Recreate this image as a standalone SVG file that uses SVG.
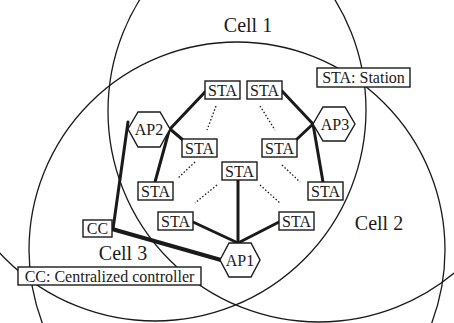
<svg xmlns="http://www.w3.org/2000/svg" width="454" height="323" viewBox="0 0 454 323">
<style>
.cell{fill:none;stroke:#1a1a1a;stroke-width:1.3}
.box{fill:#fff;stroke:#1a1a1a;stroke-width:1.4}
text{font-family:'Liberation Serif','DejaVu Serif',serif;fill:#1a1a1a;text-anchor:middle}
.t{font-size:16px}
.lbl{font-size:20px}
.thick{stroke:#1a1a1a;stroke-width:3;fill:none;stroke-linecap:round}
.dot{stroke:#1a1a1a;stroke-width:1.3;stroke-dasharray:1.5 2;fill:none}
</style>
<rect width="454" height="323" fill="#fff"/>
<g id="cells">
<circle class="cell" cx="155" cy="110" r="211"/>
<circle class="cell" cx="319" cy="111" r="211"/>
<circle class="cell" cx="237" cy="250" r="208"/>
</g>
<g id="cell-labels" font-family="Liberation Serif, DejaVu Serif, serif">
<text class="lbl" x="248" y="32">Cell 1</text>
<text class="lbl" x="379" y="230">Cell 2</text>
<text class="lbl" x="123" y="260">Cell 3</text>
</g>
<g id="connectors">
<line class="thick" x1="170" y1="129" x2="205" y2="92"/>
<line class="thick" x1="170" y1="129" x2="183" y2="140"/>
<line class="thick" x1="169" y1="131" x2="155" y2="182"/>
<line class="thick" x1="128" y1="122" x2="113" y2="229"/>
<line class="thick" style="stroke-width:4" x1="112" y1="229" x2="221" y2="260"/>
<line class="thick" x1="238" y1="243" x2="238" y2="180"/>
<line class="thick" x1="238" y1="243" x2="193" y2="222"/>
<line class="thick" x1="238" y1="243" x2="279" y2="222"/>
<line class="thick" x1="313" y1="124" x2="282" y2="91"/>
<line class="thick" x1="313" y1="124" x2="296" y2="140"/>
<line class="thick" x1="313" y1="124" x2="323" y2="182"/>
<line class="dot" x1="216" y1="106" x2="207" y2="130"/>
<line class="dot" x1="260" y1="106" x2="275" y2="130"/>
<line class="dot" x1="195" y1="162" x2="178" y2="178"/>
<line class="dot" x1="282" y1="165" x2="300" y2="182"/>
<line class="dot" x1="217" y1="185" x2="195" y2="203"/>
<line class="dot" x1="260" y1="185" x2="280" y2="203"/>
</g>
<g font-family="Liberation Serif, DejaVu Serif, serif">
<g id="AP1"><polygon class="box" points="220,260 229,243 251,243 260,260 251,277 229,277"/><text class="t" x="240" y="266">AP1</text></g>
<g id="AP2"><polygon class="box" points="128,129 138,112 160,112 170,129 160,147 138,147"/><text class="t" x="149" y="135">AP2</text></g>
<g id="AP3"><polygon class="box" points="313,124 323,107 345,107 355,124 345,141 323,141"/><text class="t" x="335" y="130">AP3</text></g>
<g id="STA1"><rect class="box" x="205" y="81" width="35" height="18"/><text class="t" x="222.5" y="95.5">STA</text></g>
<g id="STA2"><rect class="box" x="247" y="81" width="35" height="18"/><text class="t" x="264.5" y="95.5">STA</text></g>
<g id="STA3"><rect class="box" x="182" y="139" width="35" height="18"/><text class="t" x="199.5" y="153.5">STA</text></g>
<g id="STA4"><rect class="box" x="262" y="139" width="35" height="18"/><text class="t" x="279.5" y="153.5">STA</text></g>
<g id="STA5"><rect class="box" x="222" y="162" width="35" height="18"/><text class="t" x="239.5" y="176.5">STA</text></g>
<g id="STA6"><rect class="box" x="138" y="182" width="35" height="18"/><text class="t" x="155.5" y="196.5">STA</text></g>
<g id="STA7"><rect class="box" x="308" y="182" width="35" height="18"/><text class="t" x="325.5" y="196.5">STA</text></g>
<g id="STA8"><rect class="box" x="158" y="212" width="35" height="18"/><text class="t" x="175.5" y="226.5">STA</text></g>
<g id="STA9"><rect class="box" x="279" y="212" width="35" height="18"/><text class="t" x="296.5" y="226.5">STA</text></g>
<g id="CC"><rect class="box" x="83" y="220" width="29" height="17"/><text class="t" x="97.5" y="234">CC</text></g>
<g id="legend-sta"><rect class="box" x="317" y="68" width="93" height="19"/><text class="t" x="363.5" y="83">STA: Station</text></g>
<g id="legend-cc"><rect class="box" x="18" y="267" width="183" height="18"/><text class="t" x="109.5" y="282">CC: Centralized controller</text></g>
</g>
</svg>
